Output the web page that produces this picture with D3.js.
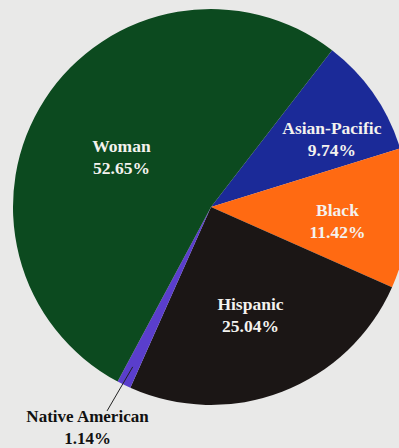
<!DOCTYPE html>
<html>
<head>
<meta charset="utf-8">
<script src="https://cdn.jsdelivr.net/npm/d3@7"></script>
<style>
  html, body { margin: 0; padding: 0; background: #e9e9e8; }
  svg { display: block; }
</style>
</head>
<body>
<svg id="chart" width="399" height="448"></svg>
<script>
// slices in clockwise order, starting at the Asian-Pacific edge
const groups = ["Asian-Pacific", "Black", "Hispanic", "Native American", "Woman"];
const shares = [9.74, 11.42, 25.04, 1.14, 52.65];
const colors = ["#1b2a98", "#ff6a12", "#1b1615", "#5a3ecc", "#0c4a1f"];

const svg = d3.select("#chart"),
  cx = 211, cy = 207, radius = 198;

const g = svg.append("g").attr("transform", "translate(" + cx + "," + cy + ")");

const pie = d3.pie()
  .sort(null)
  .value(function(d) { return d; })
  .startAngle(37.7 * Math.PI / 180)
  .endAngle(37.7 * Math.PI / 180 + 2 * Math.PI);

const arc = d3.arc().innerRadius(0).outerRadius(radius);

const arcs = pie(shares);

g.selectAll("path.slice")
  .data(arcs)
  .enter().append("path")
  .attr("class", "slice")
  .attr("fill", function(d, i) { return colors[i]; })
  .attr("d", arc);

// label placement: radius along slice mid-angle plus a small nudge
const labelPos = {
  "Asian-Pacific": {r: 136, da: 7.5},
  "Black": {r: 128, da: 5.5},
  "Hispanic": {r: 121, da: 2},
  "Woman": {r: 100, da: -6.5}
};

function polar(r, a) {
  return [r * Math.sin(a), -r * Math.cos(a)];
}

arcs.forEach(function(d, i) {
  const name = groups[i];
  const mid = (d.startAngle + d.endAngle) / 2;
  if (labelPos[name]) {
    const p = polar(labelPos[name].r, mid + labelPos[name].da * Math.PI / 180);
    const t = g.append("text")
      .attr("text-anchor", "middle")
      .attr("font-family", "'Liberation Serif', 'DejaVu Serif', serif")
      .attr("font-weight", "bold")
      .attr("font-size", 17.5)
      .attr("fill", "#f4f2ee");
    t.append("tspan").attr("x", p[0]).attr("y", p[1] - 11).text(name);
    t.append("tspan").attr("x", p[0]).attr("y", p[1] + 11).text(shares[i].toFixed(2) + "%");
  } else {
    // small slice: label outside with a leader line
    const p0 = polar(radius - 20, mid);
    const p1 = [107 - cx, 411 - cy];
    g.append("line")
      .attr("x1", p0[0]).attr("y1", p0[1])
      .attr("x2", p1[0]).attr("y2", p1[1])
      .attr("stroke", "#222")
      .attr("stroke-width", 1);
    const t = g.append("text")
      .attr("text-anchor", "middle")
      .attr("font-family", "'Liberation Serif', 'DejaVu Serif', serif")
      .attr("font-weight", "bold")
      .attr("font-size", 17)
      .attr("fill", "#111");
    t.append("tspan").attr("x", 87.5 - cx).attr("y", 421.5 - cy).text(name);
    t.append("tspan").attr("x", 87.5 - cx).attr("y", 443.5 - cy).text(shares[i].toFixed(2) + "%");
  }
});
</script>
</body>
</html>
